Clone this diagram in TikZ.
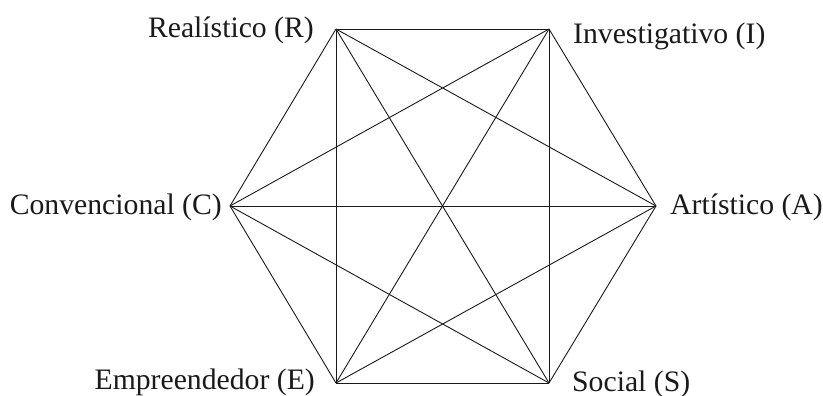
\documentclass[tikz,border=0pt]{standalone}
\usepackage{fontspec}
\setmainfont{Liberation Serif}
\usepackage{tikz}
\usetikzlibrary{positioning}
\definecolor{ink}{HTML}{1A1A1A}
\tikzset{
  typelabel/.style={font=\fontsize{29.7}{34}\selectfont, text=ink, inner sep=0pt},
  hexedge/.style={draw=ink, line width=0.9pt}
}

\begin{document}
\begin{tikzpicture}[x=1pt, y=-1pt]
  \useasboundingbox (0,0) rectangle (823,396);

  % vertices of the hexagon
  \coordinate (R) at (336,29);
  \coordinate (I) at (549,29);
  \coordinate (A) at (656,206);
  \coordinate (S) at (549,383);
  \coordinate (E) at (336,383);
  \coordinate (C) at (230,206);

  % every pair of types is joined
  \foreach \from/\to in {R/I, R/A, R/S, R/E, R/C,
                         I/A, I/S, I/E, I/C,
                         A/S, A/E, A/C,
                         S/E, S/C,
                         E/C}
    \draw[hexedge] (\from) -- (\to);

  \node[typelabel, anchor=east] (Rlab) at (314,30) {Realístico (R)};
  \node[typelabel, anchor=west] (Ilab) at (573,36) {Investigativo (I)};
  \node[typelabel, anchor=west] (Alab) at (670,207) {Artístico (A)};
  \node[typelabel, anchor=west] (Slab) at (572,384) {Social (S)};
  \node[typelabel, anchor=east] (Elab) at (315,382) {Empreendedor (E)};
  \node[typelabel, anchor=east] (Clab) at (222,207) {Convencional (C)};
\end{tikzpicture}
\end{document}
